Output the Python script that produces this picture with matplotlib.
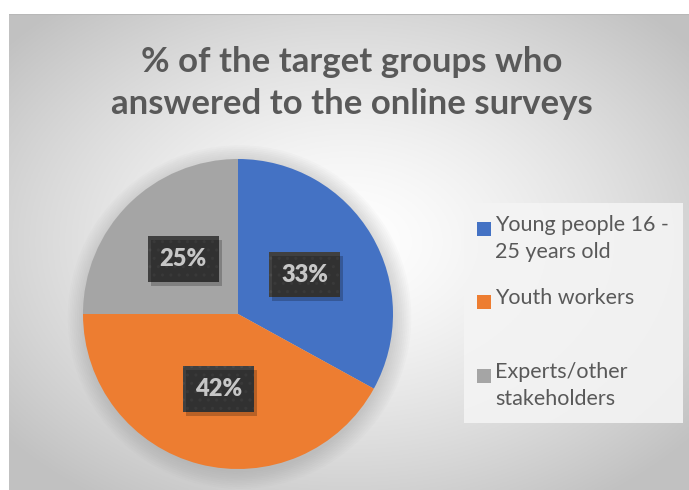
import matplotlib

matplotlib.use("Agg")

import matplotlib.pyplot as plt
import numpy as np
from matplotlib.patches import Circle, Rectangle

W, H = 689, 490

title = "% of the target groups who\nanswered to the online surveys"
groups = ["Young people 16 -\n25 years old", "Youth workers", "Experts/other\nstakeholders"]
shares = [33, 42, 25]
colors = ["#4472C4", "#ED7D31", "#A5A5A5"]

FONT = "Lato"
TEXT_COLOR = "#595959"


def px(x, y):
    # pixel position (from top-left) -> figure fraction
    return x / W, 1 - y / H


fig = plt.figure(figsize=(W / 100, H / 100), dpi=100)
fig.patch.set_facecolor("white")

# chart area with radial gradient fill
bg = fig.add_axes([9 / W, 0, 1 - 9 / W, 1 - 14 / H])
bg.set_axis_off()
gx, gy = np.meshgrid(np.linspace(0, 1, 400), np.linspace(0, 1, 300))
dist = np.sqrt(((gx - 0.5) / 0.65) ** 2 + ((gy - 0.48) / 0.65) ** 2)
shade = 1 - 0.24 * np.clip(dist, 0, 1) ** 1.4
bg.imshow(np.dstack([shade] * 3), extent=[0, 1, 0, 1], aspect="auto", origin="upper")
bg.set_xlim(0, 1)
bg.set_ylim(0, 1)
bg.axhline(1, color="#b8b8b8", lw=1.5)

fig.text(*px(352, 83), title, ha="center", va="center", fontsize=25,
         fontweight="bold", color=TEXT_COLOR, family=FONT, linespacing=1.4)

# pie
cx, cy, r = 238, 314, 155
ax = fig.add_axes([(cx - r) / W, (H - cy - r) / H, 2 * r / W, 2 * r / H])
ax.set_axis_off()
for k in range(10):
    ax.add_patch(Circle((0.01, -0.02), 1.0 + 0.012 * k, color="#808080",
                        alpha=0.03, lw=0, zorder=0, clip_on=False))

wedges, _, pct = ax.pie(
    shares, colors=colors, startangle=90, counterclock=False, radius=1,
    autopct=lambda p: f"{p:.0f}%", pctdistance=0.5,
    wedgeprops=dict(linewidth=0),
    textprops=dict(color="white", fontsize=17, fontweight="heavy", family=FONT),
)
ax.set_xlim(-1, 1)
ax.set_ylim(-1, 1)
for t in pct:
    t.set_zorder(4)
    t.set_bbox(dict(boxstyle="square,pad=0.5", fc="#404040", ec="#4a4a4a",
                    hatch="..", lw=0))

# soft drop shadow behind each label box
fig.canvas.draw()
for t in pct:
    ext = t.get_bbox_patch().get_window_extent()
    fig.patches.append(Rectangle(((ext.x0 + 3) / W, (ext.y0 - 4) / H),
                                 ext.width / W, ext.height / H,
                                 transform=fig.transFigure, fc="black",
                                 ec="none", alpha=0.22, zorder=2))

# legend box
lx0, ly0, lx1, ly1 = 464, 203, 683, 423
fig.patches.append(Rectangle(px(lx0, ly1), (lx1 - lx0) / W, (ly1 - ly0) / H,
                             transform=fig.transFigure, fc="#f4f4f4", ec="none",
                             alpha=0.9))
slot = (ly1 - ly0) / len(groups)
for i, (label, color) in enumerate(zip(groups, colors)):
    top = ly0 + slot * i + 12
    fig.patches.append(Rectangle(px(477, top + 21), 14 / W, 14 / H,
                                 transform=fig.transFigure, fc=color, ec="none"))
    fig.text(*px(495, top), label, ha="left", va="top", fontsize=15.5,
             color=TEXT_COLOR, family=FONT, linespacing=1.45)

fig.savefig("out.png", dpi=100)
